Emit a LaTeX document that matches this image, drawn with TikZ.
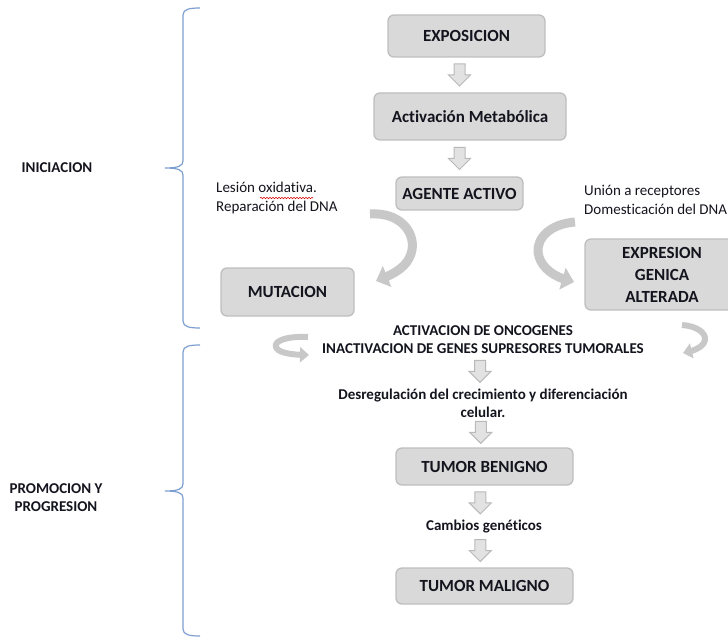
\documentclass[tikz,border=0pt]{standalone}
\usepackage{fontspec}
\setmainfont{Carlito}[Ligatures=CommonOff]
\usetikzlibrary{arrows.meta,bending,calc,decorations.pathmorphing}
\definecolor{boxfill}{RGB}{217,217,217}
\definecolor{boxline}{RGB}{190,190,190}
\definecolor{bracec}{RGB}{125,158,208}
\definecolor{arrfill}{RGB}{226,226,226}
\definecolor{arrline}{RGB}{185,185,185}
\definecolor{curv}{RGB}{200,200,200}
\definecolor{txt}{RGB}{20,20,30}
\begin{document}
\begin{tikzpicture}[x=1pt,y=-1pt,
  box/.style={draw=boxline, line width=1.3pt, rounded corners=6pt, fill=boxfill,
    font=\fontsize{17}{22}\selectfont\bfseries, text=txt, align=center, inner sep=0pt},
  lbl/.style={font=\fontsize{15}{18}\selectfont\bfseries, text=txt, align=center, inner sep=0pt},
  plain/.style={font=\fontsize{15}{19}\selectfont, text=txt, align=left, inner sep=0pt},
  bracestyle/.style={draw=bracec, line width=1.2pt},
  curvarr/.style={draw=curv, line width=9pt, -{Triangle[width=22pt,length=12pt]}},
  smallarr/.style={draw=curv, line width=6pt, -{Triangle[width=15pt,length=9pt]}},
  downarr/.pic={\path[fill=arrfill, draw=arrline, line width=1pt]
     (-5.5,-11) -- (5.5,-11) -- (5.5,0) -- (11,0) -- (0,11) -- (-11,0) -- (-5.5,0) -- cycle;}
]
\useasboundingbox (0,0) rectangle (728,639);
\clip (0,0) rectangle (728,639);

% braces
\draw[bracestyle] (200,8) .. controls (190,8) and (183,9) .. (183,15) -- (183,161)
  .. controls (183,166) and (178,168) .. (165,168)
  .. controls (178,168) and (183,170) .. (183,175) -- (183,321)
  .. controls (183,327) and (190,328) .. (200,328);
\draw[bracestyle] (200,345) .. controls (190,345) and (183,346) .. (183,352) -- (183,484)
  .. controls (183,489) and (178,491) .. (165,491)
  .. controls (178,491) and (183,493) .. (183,498) -- (183,629)
  .. controls (183,635) and (190,636) .. (200,636);

% stage labels
\node[lbl] (ini) at (57,168) {INICIACION};
\node[lbl] (prom) at (56,498) {PROMOCION Y\\PROGRESION};

% boxes
\node[box, minimum width=157pt, minimum height=42pt] (expo) at (466.5,36) {EXPOSICION};
\node[box, minimum width=192pt, minimum height=47pt] (activ) at (470,116.5) {Activación Metabólica};
\node[box, minimum width=127pt, minimum height=33pt] (agente) at (459.5,193.5) {AGENTE ACTIVO};
\node[box, minimum width=133pt, minimum height=48pt] (mut) at (287.5,292) {MUTACION};
\node[box, minimum width=155pt, minimum height=71pt] (expr) at (662.5,274.5) {};
\node[box, draw=none, fill=none] (exprt) at (662,275) {EXPRESION\\GENICA\\ALTERADA};
\node[box, minimum width=177pt, minimum height=37pt] (benig) at (484.5,466.5) {TUMOR BENIGNO};
\node[box, minimum width=177pt, minimum height=36pt] (malig) at (484.5,586) {TUMOR MALIGNO};

% texts
\node[plain, anchor=west] (lesion) at (216,198) {Lesión oxidativa.\\Reparación del DNA};
\node[plain, anchor=west] (union) at (584,199.5) {Unión a receptores\\Domesticación del DNA};
\node[lbl] (onco) at (483,340) {ACTIVACION DE ONCOGENES\\INACTIVACION DE GENES SUPRESORES TUMORALES};
\node[lbl] (desreg) at (483,403) {Desregulación del crecimiento y diferenciación\\celular.};
\node[lbl] (cambios) at (484,527) {Cambios genéticos};

% spell-check underline
\draw[red!85!black, line width=0.6pt, decorate, decoration={snake, segment length=3pt, amplitude=0.7pt}]
  (260,198) -- (313,198);

% straight block arrows
\path (expo.south -| agente.north) -- (activ.north -| agente.north) coordinate[midway] (m1);
\path (activ.south -| agente.north) -- (agente.north) coordinate[midway] (m2);
\path (onco.south) -- (desreg.north) coordinate[midway] (m3);
\path (desreg.south) -- (benig.north) coordinate[midway] (m4);
\path (benig.south) -- (cambios.north) coordinate[midway] (m5);
\path (cambios.south) -- (malig.north) coordinate[midway] (m6);
\pic at (m1) {downarr};
\pic at (m2) {downarr};
\pic at ($(m3)+(-3,0)$) {downarr};
\pic at ($(m4)+(-3,0)$) {downarr};
\pic at ($(m5)+(-4,0)$) {downarr};
\pic at ($(m6)+(-4,0)$) {downarr};

% curved arrows
\coordinate (la0) at (370,214);
\coordinate (la1) at (376,281);
\draw[curvarr] (la0) .. controls (400,212) and (415,232) .. (412,250)
   .. controls (409,266) and (395,274) .. (la1);
\coordinate (ra0) at (575,222);
\coordinate (ra1) at (574,282);
\draw[curvarr] (ra0) .. controls (550,224) and (537,238) .. (538,252)
   .. controls (540,268) and (555,278) .. (ra1);
\coordinate (sa0) at (308,337);
\coordinate (sa1) at (309,355);
\draw[smallarr] (sa0) .. controls (286,336) and (274,341) .. (276,347)
   .. controls (278,353) and (292,355) .. (sa1);
\coordinate (sb0) at (682,325);
\coordinate (sb1) at (683,353);
\draw[smallarr] (sb0) .. controls (697,326) and (706,333) .. (705,340)
   .. controls (704,347) and (694,351) .. (sb1);
\end{tikzpicture}
\end{document}
